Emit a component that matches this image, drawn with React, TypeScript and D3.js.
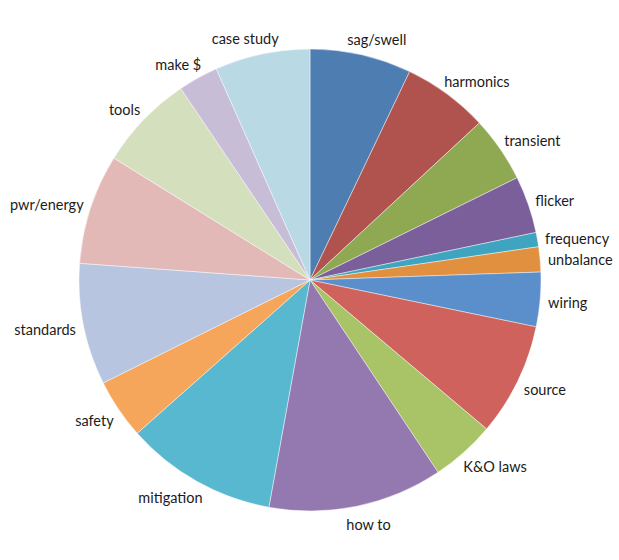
import React, { useMemo } from "react";
import * as d3 from "d3";

// topics, clockwise from 12 o'clock
const topics = [
  "sag/swell", "harmonics", "transient", "flicker", "frequency", "unbalance",
  "wiring", "source", "K&O laws", "how to", "mitigation", "safety",
  "standards", "pwr/energy", "tools", "make $", "case study",
];
// share of articles (%)
const shares = [7.1, 6.0, 4.6, 4.0, 1.0, 1.75, 3.8, 7.9, 4.5, 12.2, 10.6, 4.2, 8.5, 7.7, 6.7, 2.8, 6.65];
const colors = [
  "#4e7eb1", "#b0534f", "#8fa852", "#7a5f9a", "#3ea4bf", "#e0903e",
  "#5b8fcc", "#cf625c", "#a9c467", "#9479b0", "#58b8cf", "#f6a65a",
  "#b8c5e0", "#e3b9b8", "#d4dfbd", "#c8bdd7", "#b9d9e4",
];

const W = 619;
const H = 560;
const FONT = "14.5px Lato";

let ctx: CanvasRenderingContext2D | null = null;
function textWidth(s: string) {
  if (!ctx) ctx = document.createElement("canvas").getContext("2d");
  if (!ctx) return s.length * 7;
  ctx.font = FONT;
  return ctx.measureText(s).width;
}

export default function App() {
  const cx = 310;
  const cy = 280;
  const radius = 231;

  const arcs = useMemo(() => {
    const data = topics.map((t, i) => ({ topic: t, value: shares[i], color: colors[i] }));
    return d3.pie<any>().sort(null).value(d => d.value)(data);
  }, []);

  const arcGen = d3.arc<any>().innerRadius(0).outerRadius(radius);

  return (
    <svg width={W} height={H} style={{ position: "absolute", left: 0, top: 0, background: "#fff" }}>
      <g transform={`translate(${cx},${cy})`}>
        {arcs.map((a, i) => (
          <path key={i} d={arcGen(a) || ""} fill={a.data.color} stroke="#ffffff" strokeOpacity={0.55} strokeWidth={0.8} />
        ))}
        {arcs.map((a, i) => {
          const mid = (a.startAngle + a.endAngle) / 2;
          const w = textWidth(a.data.topic);
          const s = Math.sin(mid);
          // labels sit just off the rim; the text box is pushed sideways
          const x = Math.sign(s) * (239 * Math.abs(s) + (w / 2) * Math.sqrt(Math.abs(s)));
          const y = -248 * Math.cos(mid) + 2;
          return (
            <text key={"l" + i} x={x} y={y} dy="0.35em" textAnchor="middle"
              style={{ font: FONT, fill: "#1b1b1b" }}>
              {a.data.topic}
            </text>
          );
        })}
      </g>
    </svg>
  );
}
